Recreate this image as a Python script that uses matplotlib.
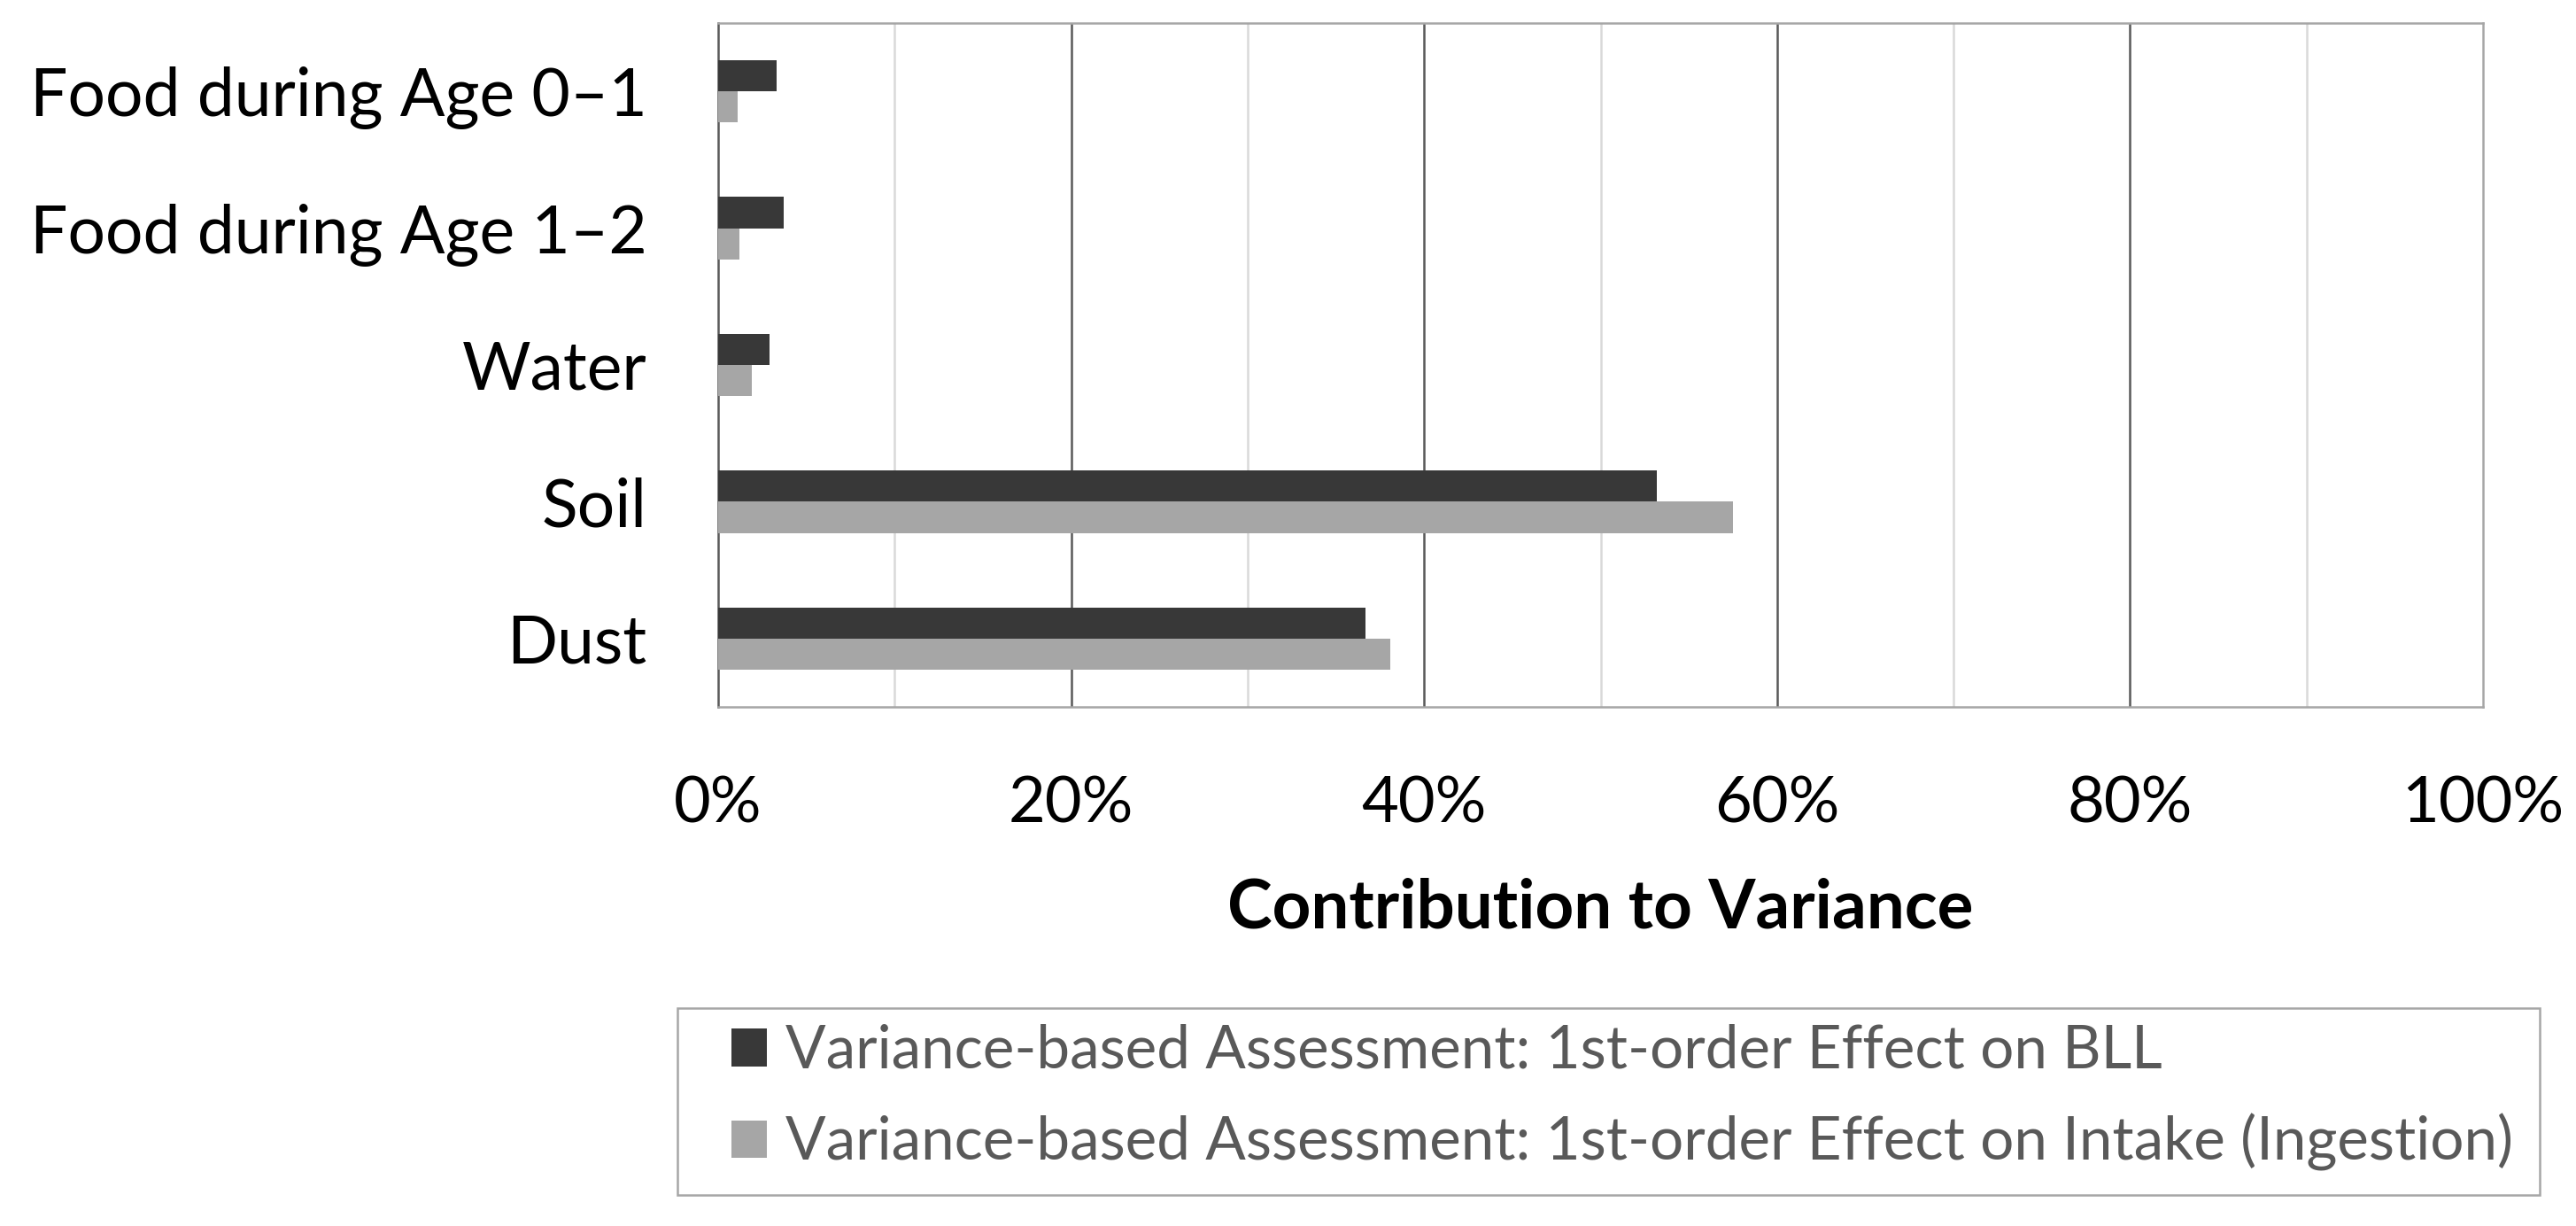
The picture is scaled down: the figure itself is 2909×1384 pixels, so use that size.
import numpy as np
import matplotlib
matplotlib.use("Agg")
import matplotlib.pyplot as plt
from matplotlib.patches import Patch, Rectangle

plt.rcParams['font.family'] = ['Lato', 'DejaVu Sans']

# 数据
categories = ['Food during Age 0–1', 'Food during Age 1–2', 'Water', 'Soil', 'Dust']
bll = [3.3, 3.7, 2.9, 53.2, 36.7]
intake = [1.1, 1.2, 1.9, 57.5, 38.1]
xticks = [0, 20, 40, 60, 80, 100]
xticklabels = ['0%', '20%', '40%', '60%', '80%', '100%']
legend_labels = ['Variance-based Assessment: 1st-order Effect on BLL',
                 'Variance-based Assessment: 1st-order Effect on Intake (Ingestion)']

W, H = 2909, 1384
fig = plt.figure(figsize=(W / 100, H / 100), dpi=100)
ax = fig.add_axes([811 / W, 1 - 798 / H, (2804 - 811) / W, (798 - 26) / H])

dark = '#383838'
light = '#a6a6a6'
y = np.arange(len(categories))
h = 0.228
ax.barh(y - h / 2, bll, height=h, color=dark, zorder=3)
ax.barh(y + h / 2, intake, height=h, color=light, zorder=3)

ax.set_xlim(0, 100)
ax.set_ylim(len(categories) - 0.5, -0.5)

# 网格线
for v in range(10, 100, 20):
    ax.axvline(v, color='#d9d9d9', lw=1.8, zorder=1)
for v in xticks[1:-1]:
    ax.axvline(v, color='#595959', lw=1.8, zorder=1)

ax.set_xticks(xticks)
ax.set_xticklabels(xticklabels)
ax.set_yticks(y)
ax.set_yticklabels(categories)
ax.tick_params(axis='both', length=0, colors='black')
ax.tick_params(axis='x', pad=56, labelsize=52)
ax.tick_params(axis='y', pad=58, labelsize=54)

for s in ['top', 'right', 'bottom']:
    ax.spines[s].set_color('#a6a6a6')
    ax.spines[s].set_linewidth(1.8)
ax.spines['left'].set_color('#595959')
ax.spines['left'].set_linewidth(1.8)

fig.text((811 + 2804) / 2 / W, 1 - 1048 / H, 'Contribution to Variance',
         ha='center', va='baseline', fontsize=55, fontweight='bold')

# 图例边框
fig.patches.append(Rectangle((765 / W, 1 - 1349 / H), (2868 - 765) / W, (1349 - 1138) / H,
                             transform=fig.transFigure, facecolor='none',
                             edgecolor='#a6a6a6', linewidth=1.8))

handles = [Patch(facecolor=dark), Patch(facecolor=light)]
leg = fig.legend(handles, legend_labels, loc='upper left',
                 bbox_to_anchor=(826 / W, 1 - 1156 / H), bbox_transform=fig.transFigure,
                 fontsize=48.5, frameon=False,
                 handlelength=0.6, handleheight=0.6, handletextpad=0.31,
                 borderpad=0, labelspacing=0.58, borderaxespad=0)
for t in leg.get_texts():
    t.set_color('#595959')

fig.savefig('out.png', dpi=100)
